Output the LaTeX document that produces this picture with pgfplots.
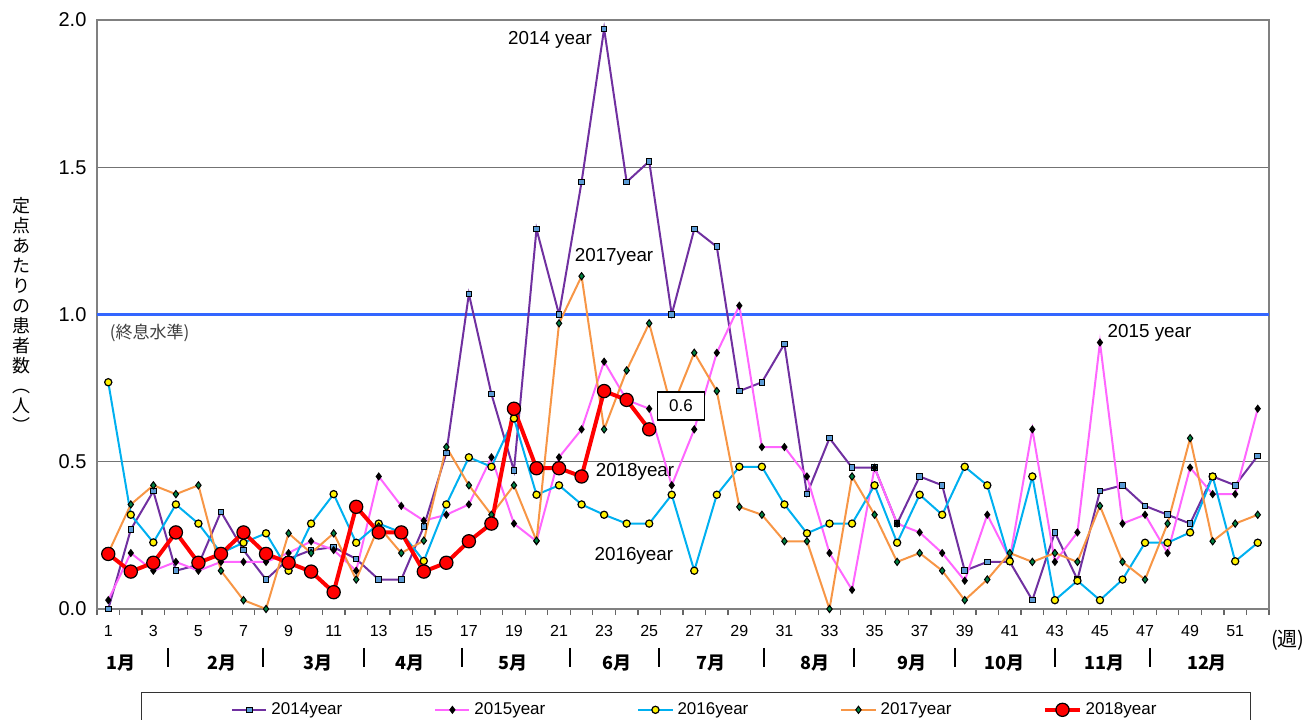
\documentclass[border=0pt]{standalone}
\usepackage{fontspec}
\setmainfont{Liberation Sans}
\newfontfamily\jp{Noto Sans CJK JP}
\usepackage{pgfplots}
\usepackage{pgfplotstable}
\pgfplotsset{compat=1.18}

\definecolor{c14}{RGB}{112,48,160}
\definecolor{c14f}{RGB}{91,155,213}
\definecolor{c15}{RGB}{255,102,255}
\definecolor{c16}{RGB}{0,176,240}
\definecolor{c17}{RGB}{247,150,70}
\definecolor{c17f}{RGB}{0,128,64}
\definecolor{lvl}{RGB}{51,102,255}

% weekly values per sentinel site, 2014-2017
\pgfplotstableread{
w  a     b     c     d
1  0.00  0.03  0.77  0.19
2  0.27  0.19  0.32  0.355
3  0.40  0.13  0.226 0.42
4  0.13  0.16  0.355 0.39
5  0.15  0.13  0.29  0.42
6  0.33  0.16  0.19  0.13
7  0.20  0.16  0.225 0.03
8  0.10  0.16  0.257 0.00
9  0.17  0.19  0.13  0.257
10 0.20  0.23  0.29  0.19
11 0.21  0.20  0.39  0.257
12 0.17  0.13  0.225 0.10
13 0.10  0.45  0.29  0.28
14 0.10  0.35  0.26  0.19
15 0.28  0.30  0.163 0.232
16 0.53  0.32  0.355 0.55
17 1.07  0.355 0.515 0.42
18 0.73  0.515 0.483 0.32
19 0.47  0.29  0.647 0.42
20 1.29  0.23  0.388 0.232
21 1.00  0.515 0.42  0.97
22 1.45  0.61  0.355 1.13
23 1.97  0.84  0.32  0.61
24 1.45  0.71  0.29  0.81
25 1.52  0.68  0.29  0.97
26 1.00  0.42  0.388 0.68
27 1.29  0.61  0.13  0.87
28 1.23  0.87  0.388 0.74
29 0.74  1.03  0.483 0.347
30 0.77  0.55  0.483 0.32
31 0.90  0.55  0.355 0.23
32 0.39  0.45  0.257 0.23
33 0.58  0.19  0.29  0.00
34 0.48  0.065 0.29  0.45
35 0.48  0.48  0.42  0.32
36 0.29  0.29  0.225 0.16
37 0.45  0.26  0.388 0.19
38 0.42  0.19  0.32  0.13
39 0.13  0.096 0.483 0.03
40 0.16  0.32  0.42  0.10
41 0.16  0.17  0.162 0.19
42 0.03  0.61  0.45  0.16
43 0.26  0.16  0.03  0.19
44 0.10  0.26  0.096 0.16
45 0.40  0.905 0.03  0.35
46 0.42  0.29  0.10  0.16
47 0.35  0.32  0.225 0.10
48 0.32  0.19  0.225 0.29
49 0.29  0.48  0.26  0.58
50 0.45  0.39  0.45  0.23
51 0.42  0.39  0.162 0.29
52 0.52  0.68  0.225 0.32
}\older

% 2018, weeks 1-25
\pgfplotstableread{
w  v
1  0.187
2  0.127
3  0.157
4  0.26
5  0.157
6  0.187
7  0.26
8  0.187
9  0.157
10 0.127
11 0.057
12 0.347
13 0.26
14 0.26
15 0.127
16 0.157
17 0.23
18 0.29
19 0.68
20 0.478
21 0.478
22 0.45
23 0.74
24 0.71
25 0.61
}\cur

\tikzset{mon/.style={font=\jp\bfseries\fontsize{9}{10}\selectfont},
         sep/.style={line width=1.2pt}}

\begin{document}
\begin{tikzpicture}
\begin{axis}[
    set layers,
    scale only axis,
    width=586pt, height=294.5pt,
    xmin=0.5, xmax=52.5,
    ymin=0, ymax=2,
    clip=false,
    xtick={1,3,...,51},
    minor xtick={0.5,1.5,...,52.5},
    ytick={0,0.5,1,1.5,2},
    yticklabel style={/pgf/number format/fixed, /pgf/number format/fixed zerofill,
        /pgf/number format/precision=1},
    /pgf/number format/assume math mode=true,
    tick align=outside,
    xtick pos=bottom, ytick pos=left,
    every major x tick/.append style={draw=none},
    every major y tick/.append style={draw=none},
    every minor x tick/.append style={black!60, line width=0.6pt},
    minor tick length=3pt,
    xticklabel style={font=\fontsize{8}{9}\selectfont, yshift=-0.5pt},
    yticklabel style={font=\fontsize{10}{11}\selectfont, xshift=2.5pt},
    ymajorgrids,
    grid style={black!55, line width=0.5pt},
    axis line style={black!50, line width=0.8pt},
    legend columns=5,
    legend style={at={(0.511,-0.1409)}, anchor=north, draw=black!80,
        font=\fontsize{8.5}{10}\selectfont, inner xsep=45pt, inner ysep=3pt,
        /tikz/every even column/.append style={column sep=44pt}},
]

\addplot[lvl, line width=1.5pt, forget plot] coordinates {(0.5,1) (52.5,1)};

\addplot[c14, line width=1pt, mark=square*, mark size=1.4pt,
    mark options={fill=c14f, draw=black, line width=0.5pt}] table[x=w, y=a] {\older};
\addplot[c15, line width=1pt, mark=diamond*, mark size=1.3pt,
    mark options={fill=black, draw=black}] table[x=w, y=b] {\older};
\addplot[c16, line width=1pt, mark=*, mark size=1.8pt,
    mark options={fill=yellow, draw=black, line width=0.6pt}] table[x=w, y=c] {\older};
\addplot[c17, line width=1pt, mark=diamond*, mark size=1.8pt,
    mark options={fill=c17f, draw=black, line width=0.5pt}] table[x=w, y=d] {\older};
\addplot[red, line width=2pt, mark=*, mark size=3.3pt,
    mark options={fill=red, draw=black, line width=0.6pt}] table[x=w, y=v] {\cur};

\legend{2014year,2015year,2016year,2017year,2018year}

% annotations
\node[font=\fontsize{9.4}{11}\selectfont] at (axis cs:20.6,1.932) {2014 year};
\node[font=\fontsize{9.4}{11}\selectfont] at (axis cs:23.44,1.195) {2017year};
\node[font=\fontsize{9.4}{11}\selectfont] at (axis cs:24.37,0.465) {2018year};
\node[font=\fontsize{9.4}{11}\selectfont] at (axis cs:24.32,0.18) {2016year};
\node[font=\fontsize{9.4}{11}\selectfont] at (axis cs:47.2,0.937) {2015 year};
\begin{pgfonlayer}{axis foreground}
\node[draw=black, fill=white, line width=0.8pt, minimum width=23.5pt, minimum height=14pt,
    inner sep=1pt, font=\fontsize{8.5}{10}\selectfont] at (axis cs:26.41,0.689) {0.6};
\end{pgfonlayer}
\node[anchor=west, text=black!75, font=\jp\fontsize{8.5}{10}\selectfont] at (axis cs:0.76,0.937) {(終息水準)};

% y label, set vertically
\node[font=\jp\fontsize{9}{10}\selectfont, align=center] at (rel axis cs:-0.0648,0.499)
    {定\\点\\あ\\た\\り\\の\\患\\者\\数\\︵\\人\\︶};
\node[font=\jp\fontsize{10}{11}\selectfont] at (axis cs:53.34,-0.105) {(週)};

% months
\node[mon] at (axis cs:1.56,-0.183) {1月};
\node[mon] at (axis cs:6.05,-0.183) {2月};
\node[mon] at (axis cs:10.30,-0.183) {3月};
\node[mon] at (axis cs:14.39,-0.183) {4月};
\node[mon] at (axis cs:18.96,-0.183) {5月};
\node[mon] at (axis cs:23.57,-0.183) {6月};
\node[mon] at (axis cs:27.74,-0.183) {7月};
\node[mon] at (axis cs:32.35,-0.183) {8月};
\node[mon] at (axis cs:36.66,-0.183) {9月};
\node[mon] at (axis cs:40.78,-0.183) {10月};
\node[mon] at (axis cs:45.22,-0.183) {11月};
\node[mon] at (axis cs:49.75,-0.183) {12月};
\draw[sep] (axis cs:3.65,-0.132) -- (axis cs:3.65,-0.197);
\draw[sep] (axis cs:7.86,-0.132) -- (axis cs:7.86,-0.197);
\draw[sep] (axis cs:12.35,-0.132) -- (axis cs:12.35,-0.197);
\draw[sep] (axis cs:16.69,-0.132) -- (axis cs:16.69,-0.197);
\draw[sep] (axis cs:21.49,-0.132) -- (axis cs:21.49,-0.197);
\draw[sep] (axis cs:25.43,-0.132) -- (axis cs:25.43,-0.197);
\draw[sep] (axis cs:30.09,-0.132) -- (axis cs:30.09,-0.197);
\draw[sep] (axis cs:34.08,-0.132) -- (axis cs:34.08,-0.197);
\draw[sep] (axis cs:38.57,-0.132) -- (axis cs:38.57,-0.197);
\draw[sep] (axis cs:43.0,-0.132) -- (axis cs:43.0,-0.197);
\draw[sep] (axis cs:47.22,-0.132) -- (axis cs:47.22,-0.197);

\coordinate (bbsw) at (rel axis cs:-0.08276,-0.18676);
\coordinate (bbne) at (rel axis cs:1.03242,1.03396);
\end{axis}
\pgfresetboundingbox
\path[use as bounding box] (bbsw) rectangle (bbne);
\end{tikzpicture}
\end{document}
